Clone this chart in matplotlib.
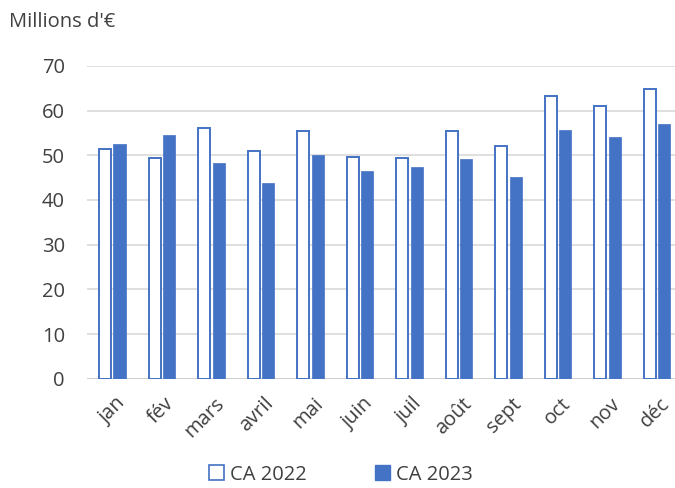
import matplotlib
matplotlib.use("Agg")
import matplotlib.pyplot as plt
import matplotlib.transforms as mtransforms
import numpy as np
from matplotlib.patches import Patch

months = ["jan", "fév", "mars", "avril", "mai", "juin", "juil", "août", "sept", "oct", "nov", "déc"]
ca_2022 = [51.3, 49.4, 56.1, 50.9, 55.5, 49.6, 49.4, 55.5, 52.0, 63.3, 61.0, 64.8]
ca_2023 = [52.5, 54.6, 48.2, 43.7, 50.1, 46.4, 47.4, 49.1, 45.2, 55.6, 54.0, 56.9]
yticks = [0, 10, 20, 30, 40, 50, 60, 70]

plt.rcParams['font.family'] = ['Open Sans', 'DejaVu Sans']
blue = "#4472C4"
txt = "#404040"

fig = plt.figure(figsize=(6.75, 4.88), dpi=100)
ax = fig.add_axes([0.129, 0.224, 0.871, 0.641])

x = np.arange(len(months))
w = 0.245
ax.bar(x - 0.135, ca_2022, width=w, facecolor="white", edgecolor=blue, linewidth=1.4, zorder=3)
ax.bar(x + 0.155, ca_2023, width=w, facecolor=blue, edgecolor=blue, linewidth=0.5, zorder=3)

ax.set_ylim(0, 70)
ax.set_xlim(-0.5, -0.5 + 587 / 49.45)
ax.set_yticks(yticks)
ax.yaxis.grid(True, color="#d9d9d9", linewidth=1.2, zorder=0)
ax.axhline(0, color="#d0d0d0", linewidth=2, zorder=2)
ax.set_axisbelow(True)
for s in ax.spines.values():
    s.set_visible(False)
ax.tick_params(axis="both", length=0, labelsize=14.5, colors=txt, pad=8)
ax.tick_params(axis="y", pad=16)
ax.set_xticks(x)
ax.set_xticklabels(months, rotation=45, ha="right", rotation_mode="anchor")
offset = mtransforms.ScaledTranslation(3 / 100, -4 / 100, fig.dpi_scale_trans)
for lbl in ax.get_xticklabels():
    lbl.set_transform(lbl.get_transform() + offset)

fig.text(0.013, 0.955, "Millions d'€", fontsize=14.5, color=txt, va="center", ha="left")

handles = [Patch(facecolor="white", edgecolor=blue, linewidth=1.2, label="CA 2022"),
           Patch(facecolor=blue, edgecolor=blue, label="CA 2023")]
fig.legend(handles=handles, loc="center", bbox_to_anchor=(0.505, 0.027), ncol=2, frameon=False,
           fontsize=14.5, labelcolor=txt, handlelength=0.75, handleheight=0.75, handletextpad=0.3,
           columnspacing=3.4)

fig.savefig("out.png", dpi=100)
